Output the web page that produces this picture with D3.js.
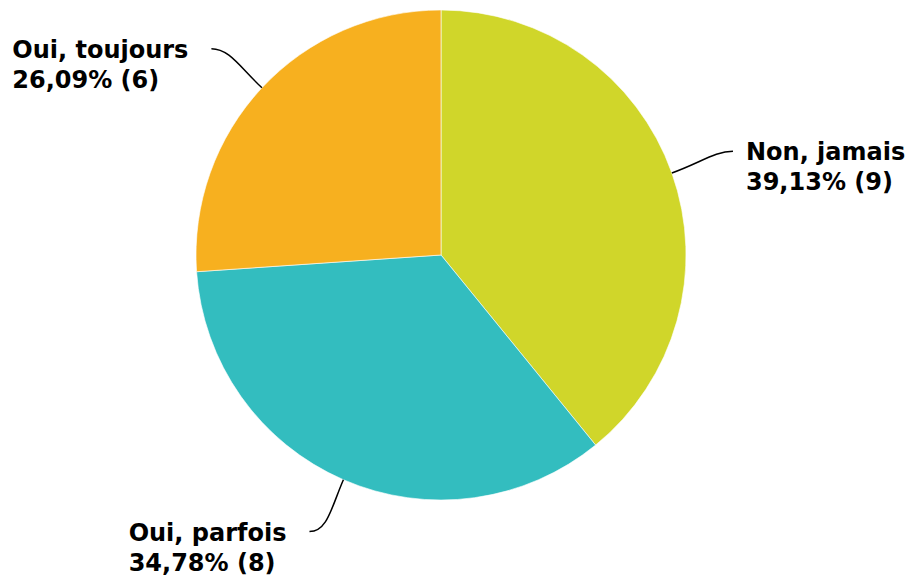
<!DOCTYPE html>
<html><head><meta charset="utf-8">
<script src="https://cdn.jsdelivr.net/npm/d3@7"></script>
<style>body{margin:0;background:#fff}svg{display:block}</style>
</head><body>
<script>
const categories = ["Non, jamais", "Oui, parfois", "Oui, toujours"];
const counts = [9, 8, 6];
const percentLabels = ["39,13%", "34,78%", "26,09%"];
const colors = ["#d0d62a", "#33bdbf", "#f7b01f"];

const W = 913, H = 577;
const cx = 441, cy = 255, R = 245;
const svg = d3.select("body").append("svg").attr("width", W).attr("height", H);
const g = svg.append("g").attr("transform", `translate(${cx},${cy})`);
const data = categories.map((c, i) => ({c, v: counts[i], p: percentLabels[i], col: colors[i]}));
const pie = d3.pie().value(d => d.v).sort(null);
const arc = d3.arc().innerRadius(0).outerRadius(R);
const arcs = pie(data);
g.selectAll("path.slice").data(arcs).enter().append("path")
  .attr("class", "slice").attr("d", arc).attr("fill", d => d.data.col)
  .attr("stroke", "#fff").attr("stroke-width", 1).attr("stroke-opacity", 0.6);

const fs = 24;
arcs.forEach(a => {
  const m = (a.startAngle + a.endAngle) / 2;
  const sx = Math.sin(m) * R, sy = -Math.cos(m) * R;
  const right = sx > 0;
  const dir = right ? 1 : -1;
  const upper = Math.cos(m) > 0;
  const ex = Math.sin(m) * (R + 50) + dir * 14;
  const ey = -Math.cos(m) * (R + 50) + (upper ? -5 : 6);
  const c1x = sx + Math.sin(m) * 30, c1y = sy - Math.cos(m) * 30;
  const c2x = ex - dir * 18, c2y = ey;
  g.append("path").attr("d", `M${sx},${sy}C${c1x},${c1y} ${c2x},${c2y} ${ex},${ey}`)
    .attr("fill", "none").attr("stroke", "#000").attr("stroke-width", 1.5);
  const t = g.append("text").attr("font-family", "DejaVu Sans").attr("font-weight", "bold")
    .attr("font-size", fs).attr("fill", "#000");
  t.append("tspan").attr("x", 0).attr("y", 0).text(a.data.c);
  t.append("tspan").attr("x", 0).attr("y", 30).text(`${a.data.p} (${a.data.v})`);
  const bb = t.node().getBBox();
  const tx = right ? ex + 13 : ex - 23 - bb.width;
  t.attr("transform", `translate(${tx},${ey + 9})`);
});
</script>
</body></html>
